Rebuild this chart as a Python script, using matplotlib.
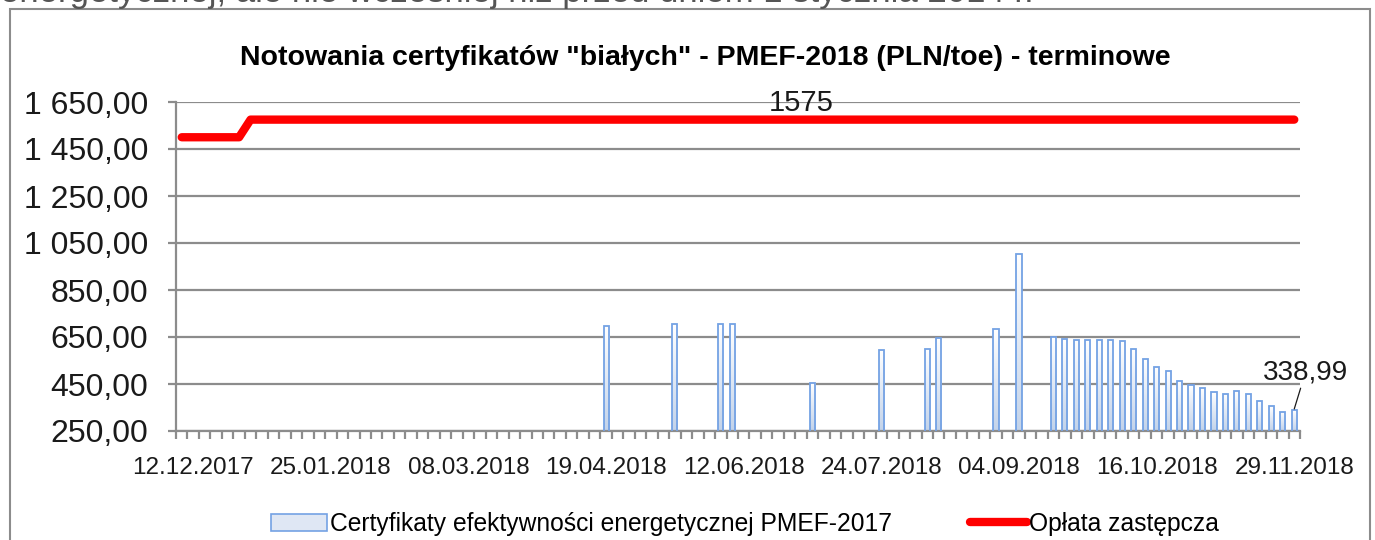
import numpy as np
import matplotlib.pyplot as plt
from matplotlib.patches import Rectangle
from matplotlib.lines import Line2D
from matplotlib.colors import LinearSegmentedColormap

# trading sessions (Tue/Thu) shown on the category axis
sessions = [
    "07.12.2017", "12.12.2017", "14.12.2017", "19.12.2017", "21.12.2017", "28.12.2017",
    "02.01.2018", "04.01.2018", "09.01.2018", "11.01.2018", "16.01.2018", "18.01.2018",
    "23.01.2018", "25.01.2018", "30.01.2018",
    "01.02.2018", "06.02.2018", "08.02.2018", "13.02.2018", "15.02.2018", "20.02.2018",
    "22.02.2018", "27.02.2018",
    "01.03.2018", "06.03.2018", "08.03.2018", "13.03.2018", "15.03.2018", "20.03.2018",
    "22.03.2018", "27.03.2018", "29.03.2018",
    "03.04.2018", "05.04.2018", "10.04.2018", "12.04.2018", "17.04.2018", "19.04.2018",
    "24.04.2018", "26.04.2018",
    "08.05.2018", "10.05.2018", "15.05.2018", "17.05.2018", "22.05.2018", "24.05.2018",
    "29.05.2018",
    "05.06.2018", "07.06.2018", "12.06.2018", "14.06.2018", "19.06.2018", "21.06.2018",
    "26.06.2018", "28.06.2018",
    "03.07.2018", "05.07.2018", "10.07.2018", "12.07.2018", "17.07.2018", "19.07.2018",
    "24.07.2018", "26.07.2018", "31.07.2018",
    "02.08.2018", "07.08.2018", "09.08.2018", "14.08.2018", "16.08.2018", "21.08.2018",
    "23.08.2018", "28.08.2018", "30.08.2018",
    "04.09.2018", "06.09.2018", "11.09.2018", "13.09.2018", "18.09.2018", "20.09.2018",
    "25.09.2018", "27.09.2018",
    "02.10.2018", "04.10.2018", "09.10.2018", "11.10.2018", "16.10.2018", "18.10.2018",
    "23.10.2018", "25.10.2018", "30.10.2018",
    "06.11.2018", "08.11.2018", "13.11.2018", "15.11.2018", "20.11.2018", "22.11.2018",
    "27.11.2018", "29.11.2018",
]

# sessions with a PMEF-2017 quotation and its price (PLN/toe)
bar_dates = [
    "19.04.2018", "17.05.2018", "05.06.2018", "07.06.2018", "03.07.2018", "24.07.2018",
    "07.08.2018", "09.08.2018", "28.08.2018", "04.09.2018",
    "13.09.2018", "18.09.2018", "20.09.2018", "25.09.2018", "27.09.2018", "02.10.2018",
    "04.10.2018", "09.10.2018", "11.10.2018", "16.10.2018", "18.10.2018", "23.10.2018",
    "25.10.2018", "30.10.2018", "06.11.2018", "08.11.2018", "13.11.2018", "15.11.2018",
    "20.11.2018", "22.11.2018", "27.11.2018", "29.11.2018",
]
bar_values = [
    695, 705, 705, 705, 455, 595,
    601, 645, 686, 1002,
    648, 642, 638, 638, 638, 638,
    632, 600, 556, 523, 506, 464,
    447, 435, 414, 409, 420, 409,
    376, 355, 332, 338.99,
]

# substitution fee: 1500 until 28.12.2017, 1575 from 02.01.2018
fee_change = "02.01.2018"
fee_old = 1500
fee_new = 1575

label_dates = ["12.12.2017", "25.01.2018", "08.03.2018", "19.04.2018", "12.06.2018",
               "24.07.2018", "04.09.2018", "16.10.2018", "29.11.2018"]
y_ticks = [250, 450, 650, 850, 1050, 1250, 1450, 1650]

W, H = 1375, 540
fig = plt.figure(figsize=(W / 100, H / 100), dpi=100)
ax = fig.add_axes([176 / W, 1 - 431 / H, (1300 - 176) / W, (431 - 102) / H])

n = len(sessions)
x = np.arange(n)
idx = {d: i for i, d in enumerate(sessions)}

grid_col = "#8c8c8c"
bar_edge = "#74a2e4"
txt_col = "#1a1a1a"
font = "Liberation Sans"

# substitution fee line
fee = [fee_old if i < idx[fee_change] else fee_new for i in x]
ax.plot(x, fee, color="#ff0000", lw=6, solid_capstyle="round", zorder=4)

# bars with a light vertical gradient
bx = [idx[d] for d in bar_dates]
bars = ax.bar(bx, bar_values, width=0.45, color="none",
              edgecolor=bar_edge, linewidth=1.3, zorder=3)
cmap = LinearSegmentedColormap.from_list("g", ["#ffffff", "#c3d3ea"])
grad = np.linspace(0, 1, 64).reshape(-1, 1)
for b, xi, v in zip(bars, bx, bar_values):
    im = ax.imshow(grad, cmap=cmap, aspect="auto", zorder=2, origin="upper",
                   extent=[xi - 0.225, xi + 0.225, 250, v])
    im.set_clip_path(b)

ax.set_xlim(-0.5, n - 0.5)
ax.set_ylim(250, 1650)

for yv in y_ticks:
    ax.axhline(yv, color=grid_col, lw=1.6, zorder=1)

ax.set_yticks(y_ticks)
ax.set_yticklabels([f"{v:,.2f}".replace(",", " ").replace(".", ",") for v in y_ticks],
                   fontsize=23, family=font, color=txt_col)
ax.set_xticks([idx[d] for d in label_dates])
ax.set_xticklabels(label_dates, fontsize=17.5, family=font, color=txt_col)
ax.set_xticks(np.arange(-0.5, n, 1), minor=True)

ax.tick_params(axis="x", which="major", length=0, pad=19)
ax.tick_params(axis="x", which="minor", length=6, width=1.6, color=grid_col)
ax.tick_params(axis="y", length=6, width=1.6, color=grid_col, pad=14)

for s in ["top", "right"]:
    ax.spines[s].set_visible(False)
for s in ["left", "bottom"]:
    ax.spines[s].set_color(grid_col)
    ax.spines[s].set_linewidth(1.6)

# data labels
ax.text(idx["28.06.2018"], fee_new + 10, str(fee_new), ha="center", va="bottom",
        fontsize=21, family=font, color=txt_col, zorder=5)
last = bar_values[-1]
ax.annotate(f"{last:.2f}".replace(".", ","), xy=(bx[-1], last + 5),
            xytext=(bx[-1] + 1.0, last + 105), ha="center", va="bottom",
            fontsize=20, family=font, color=txt_col,
            arrowprops=dict(arrowstyle="-", color=txt_col, lw=0.9,
                            shrinkA=0, shrinkB=0, relpos=(0.45, 0)))

# title
fig.text(705 / W, 1 - 58 / H, 'Notowania certyfikatów "białych" - PMEF-2018 (PLN/toe) - terminowe',
         ha="center", va="center", fontsize=20.5, fontweight="bold", family=font)

# chart frame
fig.patches.append(Rectangle((10 / W, -0.05), (1370 - 10) / W, 1.05 - 9 / H,
                             transform=fig.transFigure, fill=False,
                             edgecolor="#8c8c8c", lw=1.5))

# cut-off text line above the chart
fig.text(0, 1 - 2 / H, "energetycznej, ale nie wcześniej niż przed dniem 1 stycznia 2014 r.",
         ha="left", va="baseline", fontsize=25, family=font, color="#555555")

# legend
handles = [Rectangle((0, 0), 1, 1, facecolor="#dfe7f4", edgecolor=bar_edge, lw=1.2),
           Line2D([], [], color="#ff0000", lw=6, solid_capstyle="round")]
fig.legend(handles, ["Certyfikaty efektywności energetycznej PMEF-2017", "Opłata zastępcza"],
           loc="center", bbox_to_anchor=(745 / W, 1 - 524 / H), ncol=2, frameon=False,
           prop={"family": font, "size": 17.7},
           handlelength=2.3, handleheight=0.7, handletextpad=0.1, columnspacing=3.2)

fig.savefig("out.png", dpi=100)
